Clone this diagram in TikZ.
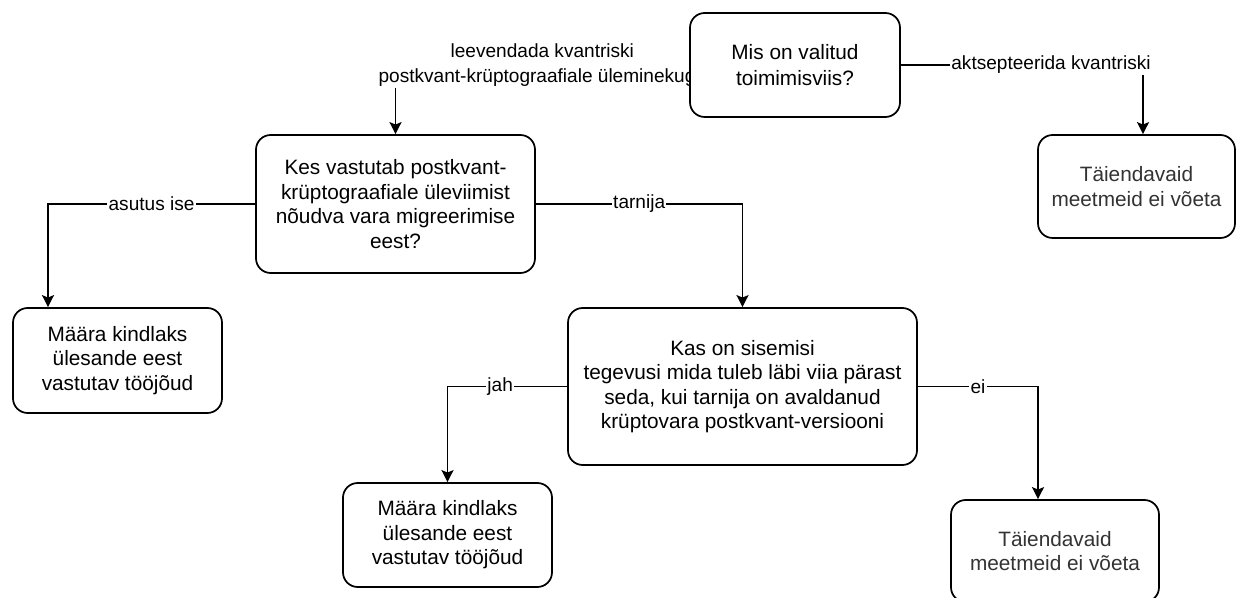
\documentclass[tikz,border=0pt]{standalone}
\usepackage{fontspec}
\setmainfont{Liberation Sans}
\usetikzlibrary{arrows.meta,backgrounds}

\tikzset{
  box/.style={draw=black, line width=1.3pt, rounded corners=11pt, fill=white,
    align=center, inner sep=0pt, font=\fontsize{15.6}{18.4}\selectfont},
  graybox/.style={box, text=black!80},
  edge/.style={line width=1.3pt, -{Stealth[length=9pt,width=9pt,inset=1.8pt]}},
  lbl/.style={fill=white, inner sep=1pt, align=center,
    font=\fontsize{14.3}{19}\selectfont}
}

\begin{document}
\begin{tikzpicture}[x=0.75pt,y=-0.75pt]
\useasboundingbox (0,0) rectangle (1236,598);

% decision and outcome boxes
\node[box, minimum width=157.5pt, minimum height=78pt,
      font=\fontsize{15.6}{20}\selectfont] (q1) at (795,65)
  {Mis on valitud\\toimimisviis?};
\node[box, minimum width=209.25pt, minimum height=103.5pt] (q2) at (395.5,204)
  {Kes vastutab postkvant-\\krüptograafiale üleviimist\\nõudva vara migreerimise\\eest?};
\node[graybox, minimum width=147.75pt, minimum height=77.25pt] (t1) at (1136.5,186.5)
  {Täiendavaid\\meetmeid ei võeta};
\node[box, minimum width=156.75pt, minimum height=78.75pt] (m1) at (117.5,360.5)
  {Määra kindlaks\\ülesande eest\\vastutav tööjõud};
\node[box, minimum width=261.75pt, minimum height=117.75pt] (q3) at (742.5,386.5)
  {Kas on sisemisi\\tegevusi mida tuleb läbi viia pärast\\seda, kui tarnija on avaldanud\\krüptovara postkvant-versiooni};
\node[box, minimum width=156.75pt, minimum height=78pt] (m2) at (447.5,535)
  {Määra kindlaks\\ülesande eest\\vastutav tööjõud};
\node[graybox, minimum width=156pt, minimum height=76.5pt] (t2) at (1055,551)
  {Täiendavaid\\meetmeid ei võeta};

% connectors sit behind the boxes
\begin{scope}[on background layer]
\draw[edge] (q1.west) -| node[lbl, pos=0.25]
  {leevendada kvantriski\\postkvant-krüptograafiale üleminekuga} (q2.north);
\draw[edge] (q1.east) -| node[lbl, pos=0.31] {aktsepteerida kvantriski}
  ([xshift=4.875pt]t1.north);
\draw[edge] (q2.west) -| node[lbl, pos=0.25] {asutus ise}
  ([xshift=-52.125pt]m1.north);
\draw[edge] (q2.east) -| node[lbl, pos=0.25] {tarnija} (q3.north);
\draw[edge] (q3.west) -| node[lbl, pos=0.28] {jah} (m2.north);
\draw[edge] (q3.east) -| node[lbl, pos=0.25] {ei}
  ([xshift=-12.75pt]t2.north);
\end{scope}
\end{tikzpicture}
\end{document}
